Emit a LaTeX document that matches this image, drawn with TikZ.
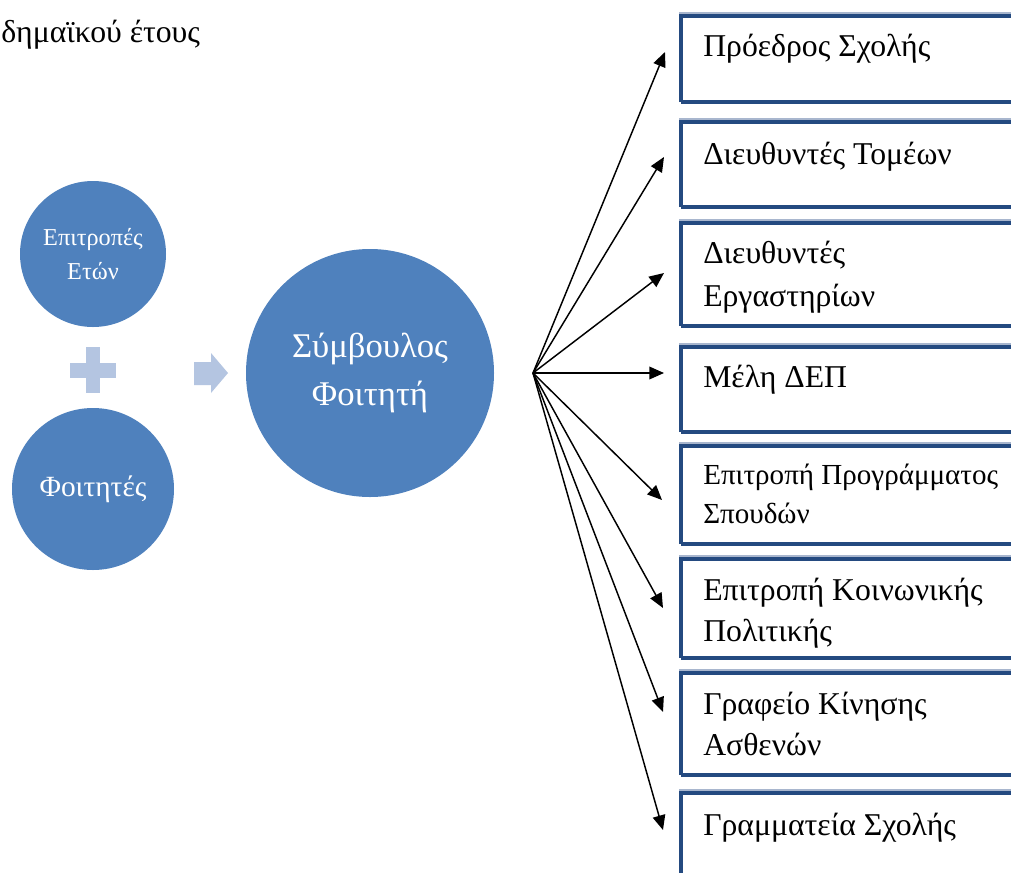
\documentclass[tikz,border=0pt]{standalone}
\usepackage{fontspec}
\setmainfont{Liberation Serif}
\usetikzlibrary{arrows.meta}
\definecolor{circblue}{RGB}{79,129,189}
\definecolor{lightblue}{RGB}{180,197,225}
\definecolor{boxblue}{RGB}{36,74,128}
\definecolor{boxshade}{RGB}{168,182,206}
\begin{document}
\begin{tikzpicture}[x=0.75pt,y=-0.75pt,
  bubble/.style={circle,fill=circblue,text=white,inner sep=0pt,align=center},
  boxframe/.style={draw=boxblue,line width=2.6pt},
  boxshadow/.style={draw=boxshade,line width=0.9pt},
  boxtxt/.style={anchor=base west,inner sep=0pt,font=\fontsize{23.8}{32}\selectfont},
  boxtxtsmall/.style={anchor=base west,inner sep=0pt,font=\fontsize{21.8}{29}\selectfont},
  conn/.style={draw=black,line width=1.1pt,-{Triangle[length=11pt,width=9.5pt]}},
  deco/.style={fill=lightblue,draw=none}]
\clip (0,0) rectangle (1011,872);
\fill[white] (0,0) rectangle (1011,872);

% heading fragment
\node[anchor=base west,inner sep=0pt,font=\fontsize{23.8}{32}\selectfont] (head) at (1,42) {δημαϊκού έτους};

% circles
\node[bubble,minimum size=109.5pt,font=\fontsize{18.2}{25.5}\selectfont] (ep) at (93,254) {Επιτροπές\\Ετών};
\node[bubble,minimum size=121.5pt,font=\fontsize{22}{30}\selectfont] (fo) at (93,489) {Φοιτητές};
\node[bubble,minimum size=186pt,font=\fontsize{26}{36}\selectfont] (sf) at (370,373) {Σύμβουλος\\Φοιτητή};

% plus sign
\path[deco] (70,363) rectangle (116,378);
\path[deco] (86,347) rectangle (100,393);
% block arrow
\path[deco] (194,362) -- (211,362) -- (211,353) -- (228,373) -- (211,393) -- (211,385) -- (194,385) -- cycle;

% boxes
\foreach \t/\b in {16/102,122/207,223/326,347/432,446/544,559/658,673/775,793/900}{
  \draw[boxshadow] (679,\t-3) -- (1030,\t-3);
  \draw[boxframe] (681,\b) -- (681,\t) -- (1040,\t);
  \draw[boxframe] (681,\b) -- (1040,\b);
}

% box texts
\node[boxtxt] (l1) at (703,56) {Πρόεδρος Σχολής};
\node[boxtxt] (l2) at (703,164) {Διευθυντές Τομέων};
\node[boxtxt] (l3a) at (703,263) {Διευθυντές};
\node[boxtxt] (l3b) at (703,306) {Εργαστηρίων};
\node[boxtxt] (l4) at (703,387) {Μέλη ΔΕΠ};
\node[boxtxtsmall] (l5a) at (703,484) {Επιτροπή Προγράμματος};
\node[boxtxtsmall] (l5b) at (703,523) {Σπουδών};
\node[boxtxt] (l6a) at (703,600) {Επιτροπή Κοινωνικής};
\node[boxtxt] (l6b) at (703,641) {Πολιτικής};
\node[boxtxt] (l7a) at (703,714) {Γραφείο Κίνησης};
\node[boxtxt] (l7b) at (703,755) {Ασθενών};
\node[boxtxt] (l8) at (703,835) {Γραμματεία Σχολής};

% fan of connectors
\coordinate (fan) at (533,373);
\coordinate (t1) at (665,52);
\coordinate (t2) at (664,157);
\coordinate (t3) at (664,273);
\coordinate (t4) at (664,373);
\coordinate (t5) at (662,500);
\coordinate (t6) at (663,608);
\coordinate (t7) at (663,712);
\coordinate (t8) at (663,830);
\foreach \i in {1,...,8}{\draw[conn] (fan) -- (t\i);}
\end{tikzpicture}
\end{document}
